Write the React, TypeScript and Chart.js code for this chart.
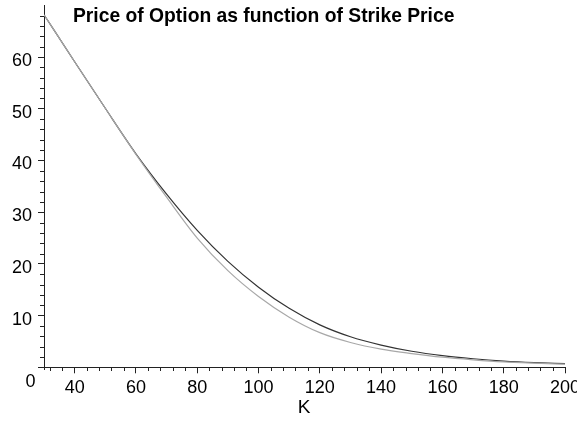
import React, { useEffect, useRef } from 'react';
import { Chart, registerables } from 'chart.js';

Chart.register(...registerables);

const strikes = [30, 40, 50, 60, 70, 80, 90, 100, 110, 120, 130, 140, 150, 160, 170, 180, 190, 200];
const priceBlack = [68.2, 59.1, 50.1, 41.3, 33.5, 26.5, 20.5, 15.5, 11.4, 8.2, 5.9, 4.3, 3.1, 2.25, 1.65, 1.2, 0.9, 0.7];
const priceGray = [68.2, 59.1, 50.1, 41.2, 32.9, 25.0, 18.7, 13.7, 9.7, 6.7, 4.8, 3.5, 2.65, 1.95, 1.45, 1.05, 0.8, 0.6];
const xTickValues = [40, 60, 80, 100, 120, 140, 160, 180, 200];
const yTickValues = [0, 10, 20, 30, 40, 50, 60];
const titleText = 'Price of Option as function of Strike Price';
const xAxisLabel = 'K';

const FONT = '"Liberation Sans", Arial, Helvetica, sans-serif';
const AXIS = '#222';

const decorPlugin = {
  id: 'decor',
  afterDraw(chart: any) {
    const ctx = chart.ctx;
    const xs = chart.scales.x;
    const ys = chart.scales.y;
    const x0 = xs.getPixelForValue(30);
    const y0 = ys.getPixelForValue(0);
    ctx.save();
    ctx.strokeStyle = AXIS;
    ctx.lineWidth = 1;
    ctx.beginPath();
    for (let v = 2; v <= 70; v += 2) {
      if (v % 10 === 0) continue;
      const py = Math.round(ys.getPixelForValue(v)) + 0.5;
      ctx.moveTo(Math.round(x0) - 4, py);
      ctx.lineTo(Math.round(x0), py);
    }
    for (let v = 32; v < 200; v += 4) {
      if (v % 20 === 0) continue;
      const px = Math.round(xs.getPixelForValue(v)) + 0.5;
      ctx.moveTo(px, Math.round(y0));
      ctx.lineTo(px, Math.round(y0) + 4);
    }
    ctx.moveTo(Math.round(x0) + 0.5, Math.round(y0));
    ctx.lineTo(Math.round(x0) + 0.5, Math.round(y0) + 3);
    ctx.stroke();

    ctx.fillStyle = '#000';
    ctx.font = 'bold 19.3px ' + FONT;
    ctx.textAlign = 'left';
    ctx.textBaseline = 'alphabetic';
    ctx.fillText(titleText, 73, 21.5);

    ctx.font = '19px ' + FONT;
    ctx.textAlign = 'center';
    ctx.fillText(xAxisLabel, 304, 413);

    ctx.font = '18px ' + FONT;
    ctx.fillText('0', 30.5, 386.5);
    ctx.restore();
  },
};

export default function App() {
  const ref = useRef<HTMLCanvasElement | null>(null);
  useEffect(() => {
    document.body.style.margin = '0';
    const canvas = ref.current;
    if (!canvas) return;
    const chart = new Chart(canvas, {
      type: 'line',
      data: {
        datasets: [
          {
            label: 'gray',
            data: strikes.map((k, i) => ({ x: k, y: priceGray[i] })),
            borderColor: '#a8a8a8',
            borderWidth: 1.2,
            pointRadius: 0,
            cubicInterpolationMode: 'monotone',
            fill: false,
          },
          {
            label: 'black',
            data: strikes.map((k, i) => ({ x: k, y: priceBlack[i] })),
            borderColor: '#333333',
            borderWidth: 1.2,
            pointRadius: 0,
            cubicInterpolationMode: 'monotone',
            fill: false,
          },
        ],
      },
      options: {
        responsive: false,
        animation: false,
        layout: { padding: { left: 0, right: 12, top: 5.4, bottom: 0 } },
        plugins: {
          legend: { display: false },
          title: { display: false },
          tooltip: { enabled: false },
        },
        scales: {
          x: {
            type: 'linear',
            min: 30,
            max: 200,
            afterBuildTicks: (s: any) => {
              s.ticks = xTickValues.map((v) => ({ value: v }));
            },
            afterFit: (s: any) => {
              s.height = 55.7;
              s.paddingLeft = 0;
              s.paddingRight = 0;
            },
            grid: {
              display: true,
              drawOnChartArea: false,
              drawTicks: true,
              tickLength: 6,
              color: AXIS,
            },
            border: { display: true, color: AXIS, width: 1 },
            ticks: {
              color: '#000',
              font: { size: 18, family: FONT },
              padding: 4,
              maxRotation: 0,
              autoSkip: false,
            },
          },
          y: {
            type: 'linear',
            min: 0,
            max: 70,
            afterBuildTicks: (s: any) => {
              s.ticks = yTickValues.map((v) => ({ value: v }));
            },
            afterFit: (s: any) => {
              s.width = 44;
              s.paddingTop = 0;
              s.paddingBottom = 0;
            },
            grid: {
              display: true,
              drawOnChartArea: false,
              drawTicks: true,
              tickLength: 6,
              color: AXIS,
            },
            border: { display: true, color: AXIS, width: 1 },
            ticks: {
              color: '#000',
              font: { size: 18, family: FONT },
              padding: 6,
              labelOffset: 4,
              autoSkip: false,
              callback: (v: any) => (v === 0 ? '' : String(v)),
            },
          },
        },
      },
      plugins: [decorPlugin],
    });
    return () => chart.destroy();
  }, []);
  return (
    <div style={{ position: 'absolute', left: 0, top: 0, width: 577, height: 423, background: '#fff' }}>
      <canvas ref={ref} width={577} height={423} style={{ display: 'block', width: 577, height: 423 }} />
    </div>
  );
}
